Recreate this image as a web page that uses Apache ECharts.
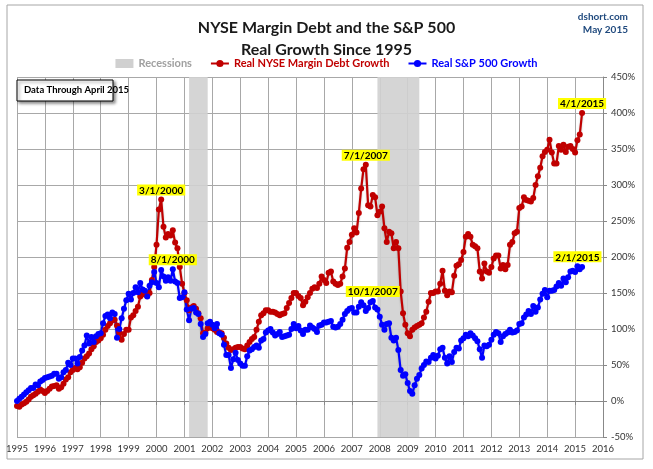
<!DOCTYPE html>
<html>
<head>
<meta charset="utf-8">
<script src="https://cdn.jsdelivr.net/npm/echarts@6/dist/echarts.min.js"></script>
<style>
  html, body { margin: 0; padding: 0; background: #fff; }
  #chart { width: 653px; height: 469px; }
</style>
</head>
<body>
<div id="chart"></div>
<script>
// monthly values, Jan 1995 .. Apr 2015 (percent real growth since Jan 1995)
var startYear = 1995;

var marginDebt = [
  -7, -8, -5, -3, -1, 2, 6, 8, 10, 13, 16, 14,            // 1995
  11, 14, 17, 20, 21, 22, 17, 19, 24, 30, 33, 40,         // 1996
  43, 46, 44, 47, 53, 59, 62, 66, 72, 76, 82, 84,         // 1997
  87, 92, 99, 104, 108, 112, 113, 105, 95, 85, 93, 99,    // 1998
  99, 116, 119, 125, 131, 145, 150, 148, 146, 150, 168, 186, // 1999
  217, 266, 280, 242, 227, 232, 230, 237, 220, 212, 186, 163, // 2000
  150, 140, 126, 130, 132, 128, 122, 115, 94, 95, 101, 104,  // 2001
  101, 99, 96, 95, 94, 88, 80, 74, 71, 72, 74, 75,        // 2002
  75, 73, 72, 77, 82, 86, 89, 99, 110, 119, 122, 126,     // 2003
  126, 124, 124, 123, 121, 119, 121, 122, 129, 136, 143, 150, // 2004
  150, 146, 143, 133, 138, 144, 150, 156, 158, 157, 163, 173, // 2005
  168, 164, 178, 180, 166, 163, 161, 163, 173, 184, 213, 221, // 2006
  231, 240, 234, 261, 295, 322, 328, 272, 270, 286, 283, 258, // 2007
  263, 270, 240, 221, 235, 233, 212, 221, 212, 152, 122, 106, // 2008
  94, 90, 99, 102, 104, 106, 108, 116, 124, 138, 150, 150,    // 2009
  152, 152, 163, 181, 153, 147, 152, 151, 174, 188, 190, 196, // 2010
  207, 228, 232, 228, 217, 215, 212, 180, 170, 191, 180, 178, // 2011
  186, 198, 202, 202, 184, 189, 183, 189, 217, 221, 233, 235, // 2012
  268, 270, 283, 279, 278, 277, 282, 300, 312, 324, 340, 346, // 2013
  349, 363, 345, 330, 330, 354, 349, 356, 346, 353, 354, 350, // 2014
  345, 362, 370, 400                                          // 2015
];

var sp500 = [
  0, 3, 6, 9, 12, 15, 18, 18, 23, 22, 27, 29,             // 1995
  32, 33, 34, 35, 38, 38, 31, 33, 40, 43, 53, 50,         // 1996
  59, 59, 52, 61, 70, 77, 91, 80, 89, 82, 90, 93,         // 1997
  94, 108, 118, 120, 115, 123, 121, 88, 100, 115, 128, 140, // 1998
  149, 141, 150, 158, 151, 164, 155, 153, 145, 160, 165, 179, // 1999
  164, 158, 182, 173, 167, 172, 167, 183, 166, 164, 143, 144, // 2000
  151, 127, 112, 128, 129, 123, 121, 107, 89, 93, 108, 110,   // 2001
  106, 101, 107, 94, 92, 78, 64, 64, 46, 58, 67, 57,          // 2002
  52, 49, 49, 62, 70, 72, 75, 77, 74, 84, 86, 95,             // 2003
  98, 100, 95, 91, 93, 96, 89, 90, 91, 92, 100, 107,          // 2004
  101, 104, 98, 93, 99, 99, 105, 102, 100, 96, 105, 106,      // 2005
  109, 109, 110, 111, 103, 102, 103, 107, 113, 121, 125, 128, // 2006
  129, 123, 123, 131, 137, 133, 125, 129, 137, 139, 130, 127, // 2007
  117, 106, 99, 107, 108, 88, 84, 88, 71, 43, 35, 37,         // 2008
  25, 14, 10, 22, 31, 36, 45, 50, 55, 54, 60, 64,             // 2009
  59, 63, 72, 74, 60, 52, 62, 54, 68, 74, 73, 84,             // 2010
  87, 92, 90, 94, 91, 87, 83, 72, 60, 77, 76, 78,             // 2011
  85, 92, 96, 94, 82, 90, 93, 95, 99, 95, 96, 98,             // 2012
  107, 108, 116, 120, 125, 121, 132, 124, 130, 141, 149, 154, // 2013
  144, 153, 153, 154, 159, 164, 160, 170, 165, 172, 180, 181, // 2014
  179, 187, 183, 186                                          // 2015
];

// recessions [start, end] as year + month/12
var recessions = [
  [2001 + 2 / 12, 2001 + 10 / 12],
  [2007 + 11 / 12, 2009 + 5 / 12]
];

// labelled points: [date label, year, month(1-12)]
var debtNotes = [['3/1/2000', 2000, 3], ['7/1/2007', 2007, 7], ['4/1/2015', 2015, 4]];
var spNotes = [['8/1/2000', 2000, 8], ['10/1/2007', 2007, 10], ['2/1/2015', 2015, 2]];

var yTicks = { min: -50, max: 450, step: 50 };
var xTicks = { min: 1995, max: 2016, step: 1 };

function toPairs(arr) {
    var out = [];
    for (var i = 0; i < arr.length; i++) {
        out.push([startYear + i / 12, arr[i]]);
    }
    return out;
}

function notesFor(notes, arr) {
    return notes.map(function(n) {
        var idx = (n[1] - startYear) * 12 + (n[2] - 1);
        return { name: n[0], coord: [startYear + idx / 12, arr[idx]] };
    });
}

var font = 'Lato, "Open Sans", sans-serif';
var noteLabel = {
    show: true,
    position: 'top',
    distance: 4,
    formatter: '{b}',
    backgroundColor: '#ffff00',
    padding: [1, 2, 0, 2],
    color: '#000',
    fontFamily: font,
    fontWeight: 'bold',
    fontSize: 10
};

var chart = echarts.init(document.getElementById('chart'));
chart.setOption({
    animation: false,
    backgroundColor: '#fff',
    title: {
        text: 'NYSE Margin Debt and the S&P 500\nReal Growth Since 1995',
        left: 'center',
        top: 12,
        textStyle: { fontFamily: font, fontSize: 16, fontWeight: 'bold', color: '#1a1a1a', lineHeight: 22 }
    },
    legend: {
        top: 53,
        left: 'center',
        itemWidth: 18,
        itemHeight: 9,
        itemGap: 18,
        textStyle: { fontFamily: font, fontSize: 11, fontWeight: 'bold' },
        data: [
            { name: 'Recessions', icon: 'rect', textStyle: { color: '#a0a0a0' } },
            { name: 'Real NYSE Margin Debt Growth', textStyle: { color: '#c00000' } },
            { name: 'Real S&P 500 Growth', textStyle: { color: '#0000ff' } }
        ]
    },
    grid: { left: 17, right: 50, top: 77, bottom: 32 },
    xAxis: {
        type: 'value',
        min: xTicks.min, max: xTicks.max, interval: xTicks.step,
        axisLine: { lineStyle: { color: '#888' } },
        axisTick: { show: true, length: 4, lineStyle: { color: '#888' } },
        axisLabel: {
            color: '#333', fontFamily: font, fontSize: 9.5, margin: 7,
            formatter: function(v) { return String(v); }
        },
        splitLine: { show: true, lineStyle: { color: '#a8a8a8', width: 1 } }
    },
    yAxis: {
        type: 'value',
        position: 'right',
        min: yTicks.min, max: yTicks.max, interval: yTicks.step,
        axisLine: { show: true, lineStyle: { color: '#888' } },
        axisTick: { show: true, length: 4, lineStyle: { color: '#888' } },
        axisLabel: { color: '#333', fontFamily: font, fontSize: 9.5, margin: 8, formatter: '{value}%' },
        splitLine: { show: true, lineStyle: { color: '#a8a8a8', width: 1 } }
    },
    graphic: [
        {
            type: 'rect', z: 100, silent: true,
            shape: { x: 7, y: 5, width: 636, height: 454 },
            style: { fill: 'none', stroke: '#a6a6a6', lineWidth: 1 }
        },
        {
            type: 'rect', z: 100,
            shape: { x: 17, y: 80, width: 96, height: 21 },
            style: {
                fill: '#fff', stroke: '#000', lineWidth: 1,
                shadowBlur: 3, shadowOffsetX: 2, shadowOffsetY: 2, shadowColor: 'rgba(0,0,0,0.45)'
            }
        },
        {
            type: 'text', z: 101, left: 24, top: 85,
            style: { text: 'Data Through April 2015', font: 'bold 9.5px ' + font, fill: '#000' }
        },
        {
            type: 'text', z: 101, right: 25, top: 12,
            style: { text: 'dshort.com', font: 'bold 10px ' + font, fill: '#1f497d', textAlign: 'right' }
        },
        {
            type: 'text', z: 101, right: 25, top: 25,
            style: { text: 'May 2015', font: 'bold 10px ' + font, fill: '#1f497d', textAlign: 'right' }
        }
    ],
    series: [
        {
            name: 'Recessions',
            type: 'line',
            data: [],
            color: '#d0d0d0',
            markArea: {
                silent: true,
                itemStyle: { color: '#d0d0d0', opacity: 0.9 },
                data: recessions.map(function(r) { return [{ xAxis: r[0] }, { xAxis: r[1] }]; })
            }
        },
        {
            name: 'Real NYSE Margin Debt Growth',
            type: 'line',
            data: toPairs(marginDebt),
            color: '#c00000',
            symbol: 'circle',
            symbolSize: 6,
            lineStyle: { width: 2.2, shadowColor: 'rgba(0,0,0,0.25)', shadowBlur: 2, shadowOffsetY: 1 },
            markPoint: { symbolSize: 0, label: noteLabel, data: notesFor(debtNotes, marginDebt) }
        },
        {
            name: 'Real S&P 500 Growth',
            type: 'line',
            data: toPairs(sp500),
            color: '#0000ff',
            symbol: 'circle',
            symbolSize: 6,
            lineStyle: { width: 2.2, shadowColor: 'rgba(0,0,0,0.25)', shadowBlur: 2, shadowOffsetY: 1 },
            markPoint: { symbolSize: 0, label: noteLabel, data: notesFor(spNotes, sp500) }
        }
    ]
});
</script>
</body>
</html>
